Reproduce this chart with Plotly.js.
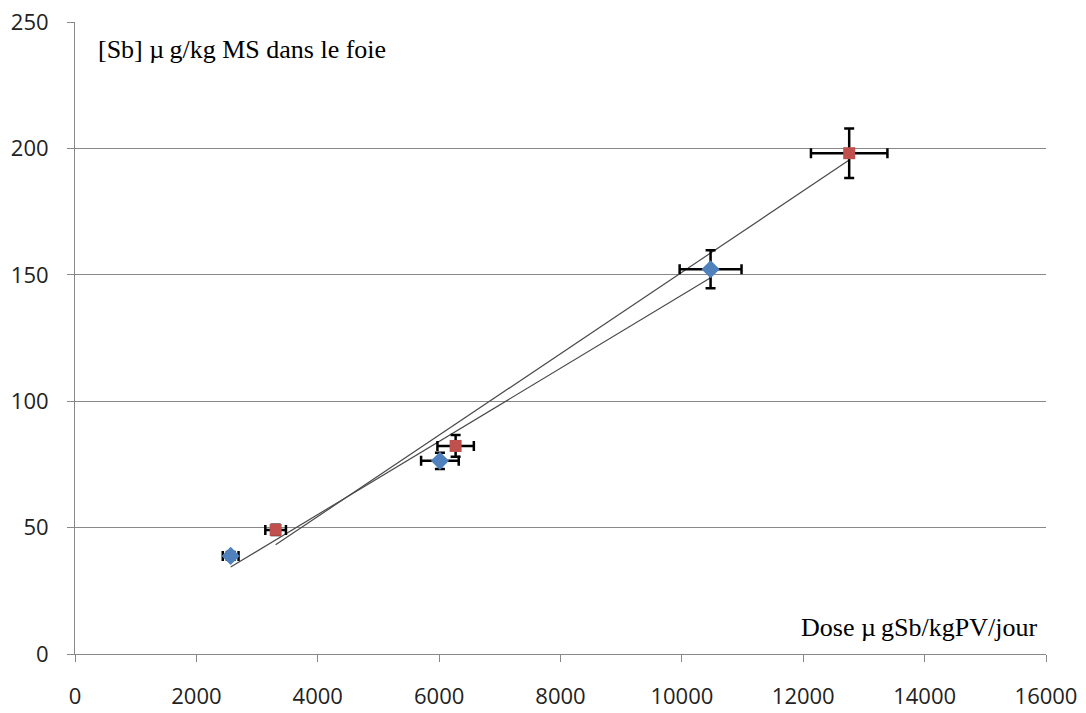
<!DOCTYPE html>
<html>
<head>
<meta charset="utf-8">
<script src="https://cdn.plot.ly/plotly-3.0.1.min.js"></script>
<style>html,body{margin:0;padding:0;background:#fff;}#chart{width:1086px;height:713px;}</style>
</head>
<body>
<div id="chart"></div>
<script>
// Blue series (diamonds)
const blueX = [2565, 6013, 10473];
const blueY = [38.8, 76.4, 152.2];
const blueXErr = [130, 310, 510];
const blueYErr = [1.5, 3.2, 7.5];
// Red series (squares)
const redX = [3306, 6272, 12757];
const redY = [49.1, 82.3, 198.1];
const redXErr = [170, 300, 630];
const redYErr = [2, 4.3, 9.8];
// Trend lines (endpoints)
const blueTrendX = [2565, 10473];
const blueTrendY = [34.4, 148.8];
const redTrendX = [3306, 12757];
const redTrendY = [43.2, 195.4];
// Axis ticks
const xTicks = [0, 2000, 4000, 6000, 8000, 10000, 12000, 14000, 16000];
const yTicks = [0, 50, 100, 150, 200, 250];

const errStyle = {color: '#000', thickness: 2.5, width: 5};

const traces = [
  {x: blueTrendX, y: blueTrendY, mode: 'lines', line: {color: '#4a4a4a', width: 1.2}, hoverinfo: 'skip', showlegend: false},
  {x: redTrendX, y: redTrendY, mode: 'lines', line: {color: '#4a4a4a', width: 1.2}, hoverinfo: 'skip', showlegend: false},
  {x: blueX, y: blueY, mode: 'markers', showlegend: false,
   marker: {symbol: 'diamond', size: 14, color: '#4F81BD'},
   error_x: Object.assign({type: 'data', array: blueXErr, visible: true}, errStyle),
   error_y: Object.assign({type: 'data', array: blueYErr, visible: true}, errStyle)},
  {x: redX, y: redY, mode: 'markers', showlegend: false,
   marker: {symbol: 'square', size: 12, color: '#C0504D'},
   error_x: Object.assign({type: 'data', array: redXErr, visible: true}, errStyle),
   error_y: Object.assign({type: 'data', array: redYErr, visible: true}, errStyle)}
];

const layout = {
  width: 1086, height: 713,
  margin: {l: 75, r: 40, t: 22, b: 59},
  paper_bgcolor: '#fff', plot_bgcolor: '#fff',
  font: {family: 'Open Sans, sans-serif', size: 22, color: '#222'},
  xaxis: {range: [0, 16000], tickvals: xTicks, ticktext: xTicks.map(String),
    showgrid: false, zeroline: false, showline: true, linecolor: '#888', linewidth: 1,
    ticks: 'outside', ticklen: 7, tickcolor: '#888', ticklabelstandoff: 16,
    tickfont: {size: 22, color: '#222'}},
  yaxis: {range: [0, 250], tickvals: yTicks, ticktext: yTicks.map(String),
    showgrid: true, gridcolor: '#888', gridwidth: 1, zeroline: false,
    showline: true, linecolor: '#888', linewidth: 1,
    ticks: 'outside', ticklen: 7, tickcolor: '#888', ticklabelstandoff: 14,
    tickfont: {size: 22, color: '#222'}},
  annotations: [
    {text: '[Sb] µ\u2009g/kg MS dans le foie', xref: 'paper', yref: 'paper', x: 0.022, y: 0.9557,
     xanchor: 'left', yanchor: 'middle', showarrow: false,
     font: {family: 'Liberation Serif, Times New Roman, serif', size: 26, color: '#000'}},
    {text: 'Dose µ\u2009gSb/kgPV/jour', xref: 'paper', yref: 'paper', x: 0.993, y: 0.0427,
     xanchor: 'right', yanchor: 'middle', showarrow: false,
     font: {family: 'Liberation Serif, Times New Roman, serif', size: 26, color: '#000'}}
  ]
};

Plotly.newPlot('chart', traces, layout, {displayModeBar: false, staticPlot: true});
</script>
</body>
</html>
